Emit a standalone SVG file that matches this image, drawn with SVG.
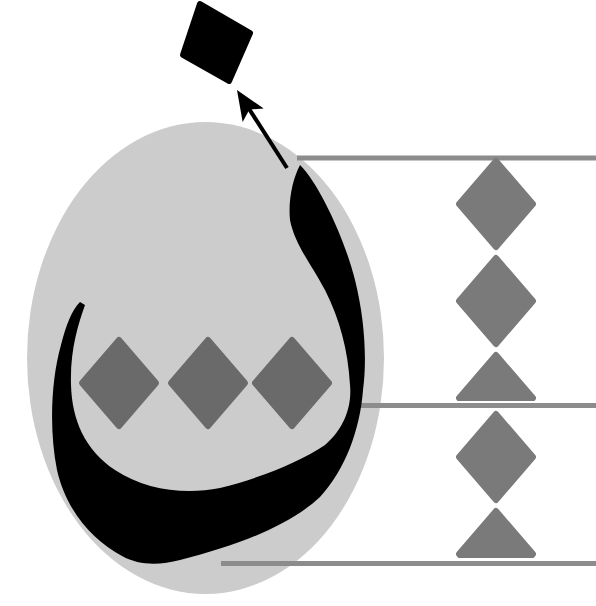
<svg xmlns="http://www.w3.org/2000/svg" width="596" height="606" viewBox="0 0 596 606">
<style>
.rule{stroke:#8c8c8c;stroke-width:5;fill:none}
.dr{fill:#7a7a7a;stroke:#7a7a7a;stroke-width:6;stroke-linejoin:round}
.di{fill:#6a6a6a;stroke:#6a6a6a;stroke-width:6;stroke-linejoin:round}
</style>
<defs>
<polygon id="dia" points="0,-43 37,0 0,43 -37,0"/>
<clipPath id="c3"><rect x="440" y="340" width="120" height="61"/></clipPath>
<clipPath id="c5"><rect x="440" y="500" width="120" height="58"/></clipPath>
<marker id="ah" markerUnits="userSpaceOnUse" markerWidth="44" markerHeight="44" viewBox="-22 -22 44 44" refX="0" refY="0" orient="auto">
<path d="M18,0 L-12,-12.5 L-5,0 L-12,12.5 Z" fill="#000"/>
</marker>
</defs>
<rect width="596" height="606" fill="#fff"/>
<g id="egg"><ellipse cx="205.5" cy="358" rx="178.5" ry="236" fill="#cccccc"/></g>
<g id="rules">
<line class="rule" x1="297" y1="158" x2="596" y2="158"/>
<line class="rule" x1="360" y1="405.5" x2="596" y2="405.5"/>
<line class="rule" x1="221" y1="563.5" x2="596" y2="563.5"/>
</g>
<g id="right-dots">
<use href="#dia" class="dr" x="496" y="204"/>
<use href="#dia" class="dr" x="496" y="301"/>
<g clip-path="url(#c3)"><use href="#dia" class="dr" x="496" y="398"/></g>
<use href="#dia" class="dr" x="496" y="457"/>
<g clip-path="url(#c5)"><use href="#dia" class="dr" x="496" y="554"/></g>
</g>
<g id="inner-dots">
<use href="#dia" class="di" x="119" y="383"/>
<use href="#dia" class="di" x="208" y="383"/>
<use href="#dia" class="di" x="292" y="383"/>
</g>
<g id="letter">
<path fill="#000" d="M300,165 C320,185 345,240 355,280 C365,320 367,360 363,390 C360,430 345,470 320,497 C290,525 240,545 180,560 C160,565 140,566 122,556 C92,540 66,510 57,470 C49,430 51,380 61,345 C66,325 72,310 80,302 L85,305 C78,325 70,350 71,385 C72,420 85,450 115,470 C145,490 185,495 220,488 C260,478 300,462 325,445 C345,428 352,405 350,385 C348,350 340,320 325,290 C310,262 295,245 290,220 C288,200 293,178 300,165 Z"/>
</g>
<g id="dot-top">
<polygon points="200,4 250,33 229,81 183,55" fill="#000" stroke="#000" stroke-width="6" stroke-linejoin="round"/>
</g>
<g id="connectors">
<line x1="287" y1="168" x2="246.7" y2="105.2" stroke="#000" stroke-width="4" marker-end="url(#ah)"/>
</g>
</svg>
